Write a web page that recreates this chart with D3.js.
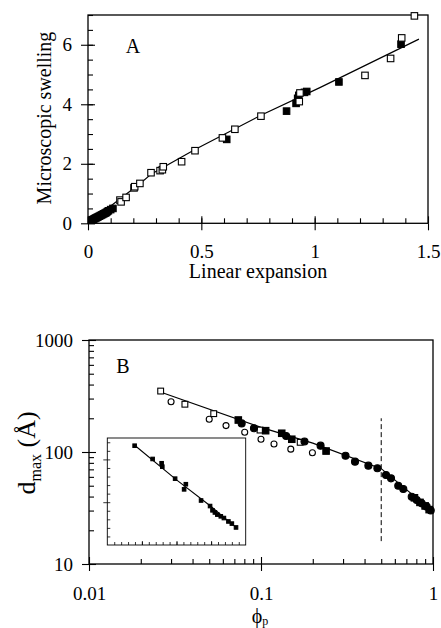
<!DOCTYPE html>
<html>
<head>
<meta charset="utf-8">
<script src="https://cdn.jsdelivr.net/npm/d3@7"></script>
<style>
  body { margin: 0; background: #fff; }
  svg { display: block; font-family: "Liberation Serif", "Times New Roman", serif; }
</style>
</head>
<body>
<svg id="fig" width="441" height="628"></svg>
<script>
// panel A : microscopic swelling vs linear expansion
const openA_x = [0.141, 0.146, 0.168, 0.203, 0.206, 0.229, 0.278, 0.318, 0.328, 0.332, 0.413, 0.472, 0.593, 0.648, 0.763, 0.932, 0.935, 1.222, 1.335, 1.384, 1.44];
const openA_y = [0.78, 0.72, 0.87, 1.19, 1.23, 1.34, 1.70, 1.77, 1.80, 1.90, 2.07, 2.44, 2.87, 3.16, 3.60, 4.09, 4.38, 4.97, 5.54, 6.23, 6.97];
const fillA_x = [0.015, 0.02, 0.025, 0.03, 0.035, 0.04, 0.045, 0.05, 0.055, 0.06, 0.065, 0.07, 0.075, 0.08, 0.085, 0.09, 0.1, 0.11, 0.612, 0.876, 0.918, 0.925, 0.93, 0.955, 0.965, 1.107, 1.381];
const fillA_y = [0.10, 0.12, 0.14, 0.16, 0.18, 0.20, 0.22, 0.24, 0.26, 0.28, 0.30, 0.32, 0.34, 0.36, 0.39, 0.42, 0.46, 0.50, 2.82, 3.77, 4.03, 4.20, 4.30, 4.40, 4.43, 4.75, 6.02];
const fitA_x = [0.005, 0.23, 0.28, 0.472, 0.763, 1.023, 1.46];
const fitA_y = [0.03, 1.34, 1.66, 2.48, 3.63, 4.56, 6.19];
const xTicksA = [0, 0.5, 1, 1.5];
const yTicksA = [0, 2, 4, 6];

// panel B : d_max vs phi_p (log-log)
const openSqB_x = [0.0261, 0.0361, 0.0531, 0.0987, 0.169];
const openSqB_y = [350, 267, 220, 157, 122];
const openCiB_x = [0.030, 0.050, 0.0626, 0.0804, 0.100, 0.119, 0.149, 0.199];
const openCiB_y = [281, 196, 172, 150, 130, 118, 106, 98.6];
const fillSqB_x = [0.0738, 0.1064, 0.132, 0.151, 0.239, 0.78, 0.84, 0.90, 0.95];
const fillSqB_y = [193, 155, 147, 130, 102, 39, 35.5, 33, 30.6];
const fillCiB_x = [0.0772, 0.091, 0.140, 0.179, 0.222, 0.31, 0.352, 0.421, 0.475, 0.533, 0.57, 0.628, 0.672, 0.752, 0.804, 0.859, 0.919, 0.97];
const fillCiB_y = [180, 163, 139, 124, 114, 92.7, 82, 75.5, 71.5, 62.3, 58.2, 50, 46.7, 39.9, 37.3, 34.8, 32.5, 30];
const fitB_x = [0.0265, 0.1, 0.2, 0.5, 1];
const fitB_y = [340, 166, 120, 71, 29.3];
const crossB_x = [0.5, 0.5];
const crossB_y = [16, 200];
const xTicksB = [0.01, 0.1, 1];
const yTicksB = [10, 100, 1000];

// inset of panel B
const insetPts_x = [0.79, 1.31, 1.57, 1.59, 1.96, 2.22, 2.27, 2.71, 2.97, 3.04, 3.11, 3.18, 3.28, 3.37, 3.50, 3.60, 3.72];
const insetPts_y = [2.32, 2.01, 1.91, 1.83, 1.55, 1.30, 1.42, 1.04, 0.91, 0.81, 0.76, 0.71, 0.67, 0.63, 0.55, 0.50, 0.41];
const insetFit_x = [0.79, 2.0, 3.0, 3.72];
const insetFit_y = [2.33, 1.52, 0.90, 0.41];

const svg = d3.select('#fig');
const serif = '"Liberation Serif", "Times New Roman", serif';

function zip(xs, ys) { return xs.map((d, i) => [d, ys[i]]); }

function frame(g, x, y) {
  const [x0, x1] = x.range(), [y0, y1] = y.range();
  g.append('rect')
    .attr('x', x0).attr('y', y1)
    .attr('width', x1 - x0).attr('height', y0 - y1)
    .attr('fill', 'none').attr('stroke', '#000').attr('stroke-width', 1.3);
}

// outer ticks + labels, then inward major / minor ticks
function axes(g, x, y, opt) {
  const h = y.range()[0], left = x.range()[0];
  g.append('g').attr('transform', `translate(0,${h})`)
    .call(d3.axisBottom(x).tickValues(opt.xMajor).tickSize(7).tickPadding(opt.xPad).tickFormat(opt.xFmt));
  g.append('g').attr('transform', `translate(${left},0)`)
    .call(d3.axisLeft(y).tickValues(opt.yMajor).tickSize(7).tickPadding(9).tickFormat(opt.yFmt));
  g.append('g').attr('transform', `translate(0,${h})`)
    .call(d3.axisBottom(x).tickValues(opt.xMajor).tickSize(-7).tickFormat(''));
  g.append('g').attr('transform', `translate(0,${h})`)
    .call(d3.axisBottom(x).tickValues(opt.xMinor).tickSize(-5).tickFormat(''));
  g.append('g').attr('transform', `translate(${left},0)`)
    .call(d3.axisLeft(y).tickValues(opt.yMajor).tickSize(-7).tickFormat(''));
  g.append('g').attr('transform', `translate(${left},0)`)
    .call(d3.axisLeft(y).tickValues(opt.yMinor).tickSize(-5).tickFormat(''));
  g.selectAll('.domain').remove();
  g.selectAll('.tick line').attr('stroke', '#000').attr('stroke-width', 1.1);
  g.selectAll('.tick text').attr('font-family', serif).attr('font-size', 19).attr('fill', '#000');
}

function squares(g, pts, x, y, s, filled) {
  g.append('g').selectAll('rect').data(pts).join('rect')
    .attr('x', d => x(d[0]) - s / 2).attr('y', d => y(d[1]) - s / 2)
    .attr('width', s).attr('height', s)
    .attr('fill', filled ? '#000' : '#fff')
    .attr('stroke', '#000').attr('stroke-width', 1.1);
}

function circles(g, pts, x, y, r, filled) {
  g.append('g').selectAll('circle').data(pts).join('circle')
    .attr('cx', d => x(d[0])).attr('cy', d => y(d[1])).attr('r', r)
    .attr('fill', filled ? '#000' : '#fff')
    .attr('stroke', '#000').attr('stroke-width', 1.1);
}

// ---------- panel A ----------
const xA = d3.scaleLinear().domain([0, 1.5]).range([88, 428]);
const yA = d3.scaleLinear().domain([0, 7]).range([223.3, 15]);
const gA = svg.append('g');

axes(gA, xA, yA, {
  xMajor: xTicksA, xMinor: d3.range(0.1, 1.5, 0.1), xPad: 14, xFmt: d3.format(''),
  yMajor: yTicksA, yMinor: d3.range(0.5, 7.01, 0.5), yFmt: d3.format('')
});
frame(gA, xA, yA);

gA.append('path')
  .datum(zip(fitA_x, fitA_y))
  .attr('d', d3.line().x(d => xA(d[0])).y(d => yA(d[1])))
  .attr('fill', 'none').attr('stroke', '#000').attr('stroke-width', 1.2);

squares(gA, zip(fillA_x, fillA_y), xA, yA, 6.5, true);
squares(gA, zip(openA_x, openA_y), xA, yA, 6.5, false);

gA.append('text').attr('x', 133).attr('y', 53).attr('text-anchor', 'middle')
  .attr('font-size', 20).text('A');
gA.append('text').attr('x', 258).attr('y', 278).attr('text-anchor', 'middle')
  .attr('font-size', 20).text('Linear expansion');
gA.append('text').attr('transform', 'translate(51,118) rotate(-90)')
  .attr('text-anchor', 'middle').attr('font-size', 20).text('Microscopic swelling');

// ---------- panel B ----------
const xB = d3.scaleLog().domain([0.01, 1]).range([89, 433]);
const yB = d3.scaleLog().domain([10, 1000]).range([564, 340]);
const gB = svg.append('g');

const logMinor = (lo, hi) => d3.range(lo, hi).flatMap(e => d3.range(2, 10).map(m => +(m * Math.pow(10, e)).toPrecision(3)));

axes(gB, xB, yB, {
  xMajor: xTicksB, xMinor: logMinor(-2, 0), xPad: 16, xFmt: d3.format(''),
  yMajor: yTicksB, yMinor: logMinor(1, 3), yFmt: d3.format('')
});
frame(gB, xB, yB);

gB.append('path')
  .datum(zip(fitB_x, fitB_y))
  .attr('d', d3.line().x(d => xB(d[0])).y(d => yB(d[1])))
  .attr('fill', 'none').attr('stroke', '#000').attr('stroke-width', 1.2);

gB.append('path')
  .datum(zip(crossB_x, crossB_y))
  .attr('d', d3.line().x(d => xB(d[0])).y(d => yB(d[1])))
  .attr('fill', 'none').attr('stroke', '#000').attr('stroke-width', 1)
  .attr('stroke-dasharray', '5,3');

circles(gB, zip(openCiB_x, openCiB_y), xB, yB, 3, false);
squares(gB, zip(openSqB_x, openSqB_y), xB, yB, 5.8, false);
circles(gB, zip(fillCiB_x, fillCiB_y), xB, yB, 3.5, true);
squares(gB, zip(fillSqB_x, fillSqB_y), xB, yB, 6.5, true);

gB.append('text').attr('x', 123).attr('y', 373).attr('text-anchor', 'middle')
  .attr('font-size', 20).text('B');

const phi = gB.append('text').attr('x', 260).attr('y', 623).attr('text-anchor', 'middle').attr('font-size', 20);
phi.append('tspan').text('\u03d5');
phi.append('tspan').attr('font-size', 12).attr('dy', 2).text('p');

const dl = gB.append('text').attr('transform', 'translate(35,453) rotate(-90)')
  .attr('text-anchor', 'middle').attr('font-size', 26);
dl.append('tspan').text('d');
dl.append('tspan').attr('font-size', 16).attr('dy', 6).text('max');
dl.append('tspan').attr('dy', -6).text(' (\u00c5)');

// ---------- inset ----------
const xI = d3.scaleLinear().domain([0, 4]).range([107.3, 245.7]);
const yI = d3.scaleLinear().domain([0, 2.5]).range([545, 438]);
const gI = svg.append('g');
gI.append('rect').attr('x', 107.3).attr('y', 438).attr('width', 138.4).attr('height', 107)
  .attr('fill', '#fff');
gI.append('g').attr('transform', 'translate(0,545)')
  .call(d3.axisBottom(xI).tickValues(d3.range(0.2, 4, 0.2)).tickSize(-3).tickFormat(''));
gI.append('g').attr('transform', 'translate(0,545)')
  .call(d3.axisBottom(xI).tickValues([1, 2, 3]).tickSize(-4).tickFormat(''));
gI.append('g').attr('transform', 'translate(107.3,0)')
  .call(d3.axisLeft(yI).tickValues(d3.range(0.2, 2.5, 0.2)).tickSize(-3).tickFormat(''));
gI.append('g').attr('transform', 'translate(107.3,0)')
  .call(d3.axisLeft(yI).tickValues([1, 2]).tickSize(4).tickFormat(''));
gI.selectAll('.domain').remove();
gI.selectAll('.tick line').attr('stroke', '#000').attr('stroke-width', 0.8);
gI.append('rect').attr('x', 107.3).attr('y', 438).attr('width', 138.4).attr('height', 107)
  .attr('fill', 'none').attr('stroke', '#000').attr('stroke-width', 0.9);

gI.append('path')
  .datum(zip(insetFit_x, insetFit_y))
  .attr('d', d3.line().x(d => xI(d[0])).y(d => yI(d[1])))
  .attr('fill', 'none').attr('stroke', '#000').attr('stroke-width', 1.1);
squares(gI, zip(insetPts_x, insetPts_y), xI, yI, 3.5, true);
</script>
</body>
</html>
